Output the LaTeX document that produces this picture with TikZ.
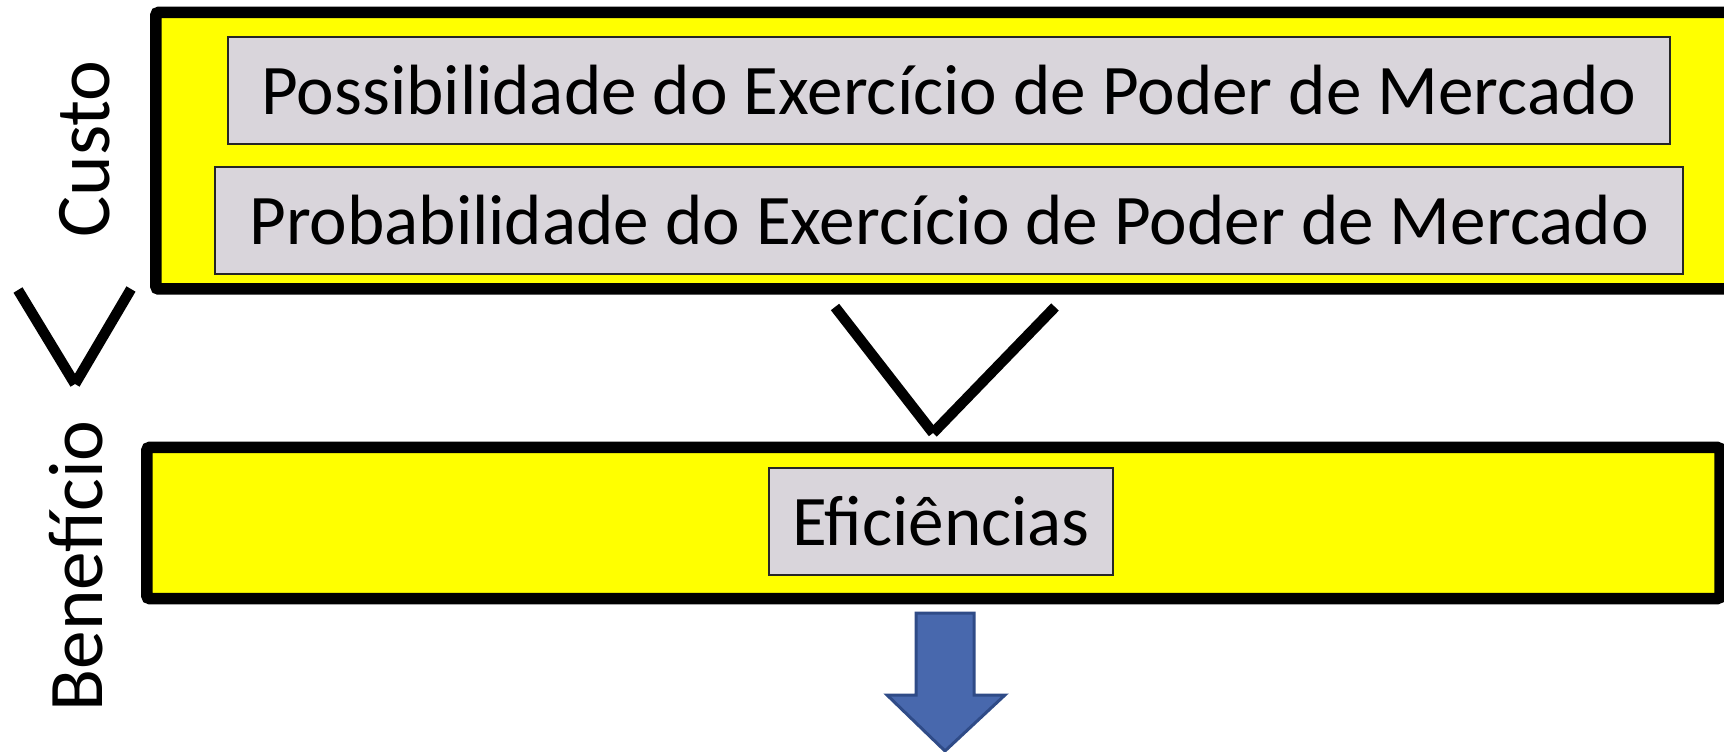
\documentclass[tikz,border=0pt]{standalone}
\usepackage{fontspec}
\setmainfont{Carlito}
\usepackage{tikz}

\definecolor{amarelofaixa}{RGB}{255,255,0}
\definecolor{cinzacaixa}{RGB}{217,213,219}
\definecolor{azulseta}{RGB}{72,104,173}
\definecolor{azulborda}{RGB}{47,75,135}

\begin{document}
\begin{tikzpicture}[x=0.2mm, y=-0.2mm,
		faixa/.style={rectangle, draw=black, fill=amarelofaixa, line width=2.3mm, rounded corners=0.5mm, inner sep=0pt},
		caixa/.style={rectangle, draw=black!85, fill=cinzacaixa, line width=0.35mm, inner sep=0pt, minimum height=21.4mm, font=\fontsize{40.5}{48}\selectfont},
		rotulo/.style={rotate=90, anchor=base, inner sep=0pt, font=\fontsize{44}{52}\selectfont},
		traco/.style={line width=2.1mm, line cap=butt}]
			\useasboundingbox (0,0) rectangle (1724,752);
			% Bands
			\node[faixa, minimum width=320.8mm, minimum height=55.3mm] (custo) at (958,150.75) {};
			\node[faixa, minimum width=314.6mm, minimum height=30.2mm] (beneficio) at (933.5,523) {};
			% Boxes
			\node[caixa, minimum width=288.4mm] (possib) at (949,90.5) {Possibilidade do Exercício de Poder de Mercado};
			\node[caixa, minimum width=293.6mm] (probab) at (949,220.5) {Probabilidade do Exercício de Poder de Mercado};
			\node[caixa, minimum width=68.8mm] (efic) at (941,521.5) {Eficiências};
			% Side labels
			\node[rotulo] (lcusto) at (109,149) {Custo};
			\node[rotulo] (lbenef) at (102,566) {Benefício};
			% Greater-than signs
			\draw[traco] (18,290) -- (75,384);
			\draw[traco] (75,384) -- (131,289);
			\draw[traco] (835,307) -- (933,433);
			\draw[traco] (933,433) -- (1055,307);
			% Arrow
			\draw[fill=azulseta, draw=azulborda, line width=0.6mm, line join=miter]
				(916,613) -- (974,613) -- (974,695) -- (1005,695) -- (945,751)
				-- (887,695) -- (916,695) -- cycle;
		\end{tikzpicture}
\end{document}
